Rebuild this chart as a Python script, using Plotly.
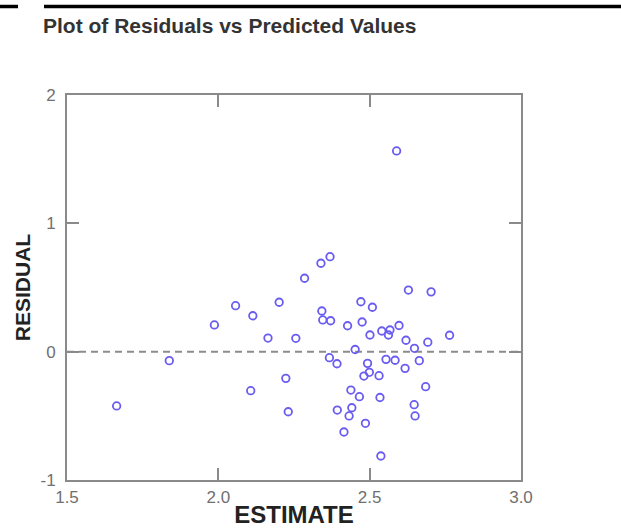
import plotly.graph_objects as go

# Fitted values (ESTIMATE) and residuals (RESIDUAL)
estimate = [
    1.664, 1.838, 1.987, 2.057, 2.107, 2.114, 2.164, 2.201, 2.223, 2.231,
    2.256, 2.285, 2.339, 2.369, 2.342, 2.345, 2.371, 2.367, 2.392, 2.393,
    2.415, 2.427, 2.432, 2.438, 2.441, 2.452, 2.466, 2.471, 2.475, 2.486,
    2.481, 2.493, 2.499, 2.501, 2.509, 2.531, 2.534, 2.540, 2.537, 2.554,
    2.567, 2.562, 2.597, 2.584, 2.589, 2.617, 2.620, 2.628, 2.648, 2.647,
    2.650, 2.664, 2.685, 2.692, 2.703, 2.764,
]
residual = [
    -0.423, -0.070, 0.208, 0.358, -0.304, 0.280, 0.106, 0.385, -0.208, -0.468,
    0.104, 0.572, 0.689, 0.740, 0.317, 0.247, 0.241, -0.047, -0.094, -0.455,
    -0.626, 0.202, -0.501, -0.299, -0.437, 0.017, -0.351, 0.389, 0.231, -0.558,
    -0.190, -0.091, -0.161, 0.130, 0.346, -0.187, -0.357, 0.161, -0.813, -0.060,
    0.169, 0.130, 0.204, -0.067, 1.564, -0.130, 0.089, 0.480, 0.026, -0.413,
    -0.501, -0.070, -0.273, 0.074, 0.466, 0.128,
]

x_ticks = [1.5, 2.0, 2.5, 3.0]
y_ticks = [-1, 0, 1, 2]

FAMILY = "Arial, Liberation Sans, sans-serif"
AXIS_GRAY = "#8a8a8a"
TICK_FONT = dict(family=FAMILY, size=17, color="#707070")

fig = go.Figure()
fig.add_trace(go.Scatter(
    x=estimate, y=residual, mode="markers",
    marker=dict(symbol="circle-open", size=7.5, color="#6a5cf0", line=dict(width=1.8)),
    showlegend=False, hoverinfo="x+y",
))

# Zero reference line
fig.add_shape(type="line", xref="paper", x0=0, x1=1, yref="y", y0=0, y1=0,
              line=dict(color="#8c8c8c", width=2, dash="7px,5px"), layer="below")

# Page rules above the title (paper coordinates of the 621x528 page)
L, R, T, B = 67, 100, 95, 48
W, H = 621, 528
pw, ph = W - L - R, H - T - B


def px_x(px):
    return (px - L) / pw


def px_y(py):
    return (H - B - py) / ph


fig.add_shape(type="line", xref="paper", yref="paper",
              x0=px_x(0), x1=px_x(18), y0=px_y(6.5), y1=px_y(6.5),
              line=dict(color="black", width=3.5))
fig.add_shape(type="line", xref="paper", yref="paper",
              x0=px_x(44), x1=px_x(621), y0=px_y(6.5), y1=px_y(6.5),
              line=dict(color="black", width=3.5))

fig.update_layout(
    width=W, height=H,
    margin=dict(l=L, r=R, t=T, b=B, pad=0, autoexpand=False),
    paper_bgcolor="white", plot_bgcolor="white",
    title=dict(text="Plot of Residuals vs Predicted Values",
               x=43 / W, xanchor="left",
               y=1 - 26 / H, yanchor="middle", automargin=False,
               font=dict(family=FAMILY, size=21, color="#333333", weight="bold")),
    xaxis=dict(
        range=[1.5, 3.0], tickvals=x_ticks, ticktext=[f"{v:.1f}" for v in x_ticks],
        showgrid=False, zeroline=False, showline=True, linecolor=AXIS_GRAY, linewidth=2,
        mirror="ticks", ticks="inside", ticklen=12, tickwidth=2, tickcolor=AXIS_GRAY,
        tickfont=TICK_FONT, ticklabelstandoff=1, automargin=False,
        title=dict(text="ESTIMATE", standoff=0,
                   font=dict(family=FAMILY, size=24, color="#222222", weight="bold")),
    ),
    yaxis=dict(
        range=[-1, 2], tickvals=y_ticks, ticktext=[str(v) for v in y_ticks],
        showgrid=False, zeroline=False, showline=True, linecolor=AXIS_GRAY, linewidth=2,
        mirror="ticks", ticks="inside", ticklen=12, tickwidth=2, tickcolor=AXIS_GRAY,
        tickfont=TICK_FONT, ticklabelstandoff=6, automargin=False,
        title=dict(text="RESIDUAL", standoff=4,
                   font=dict(family=FAMILY, size=21, color="#222222", weight="bold")),
    ),
)

fig.write_html("out.html")
